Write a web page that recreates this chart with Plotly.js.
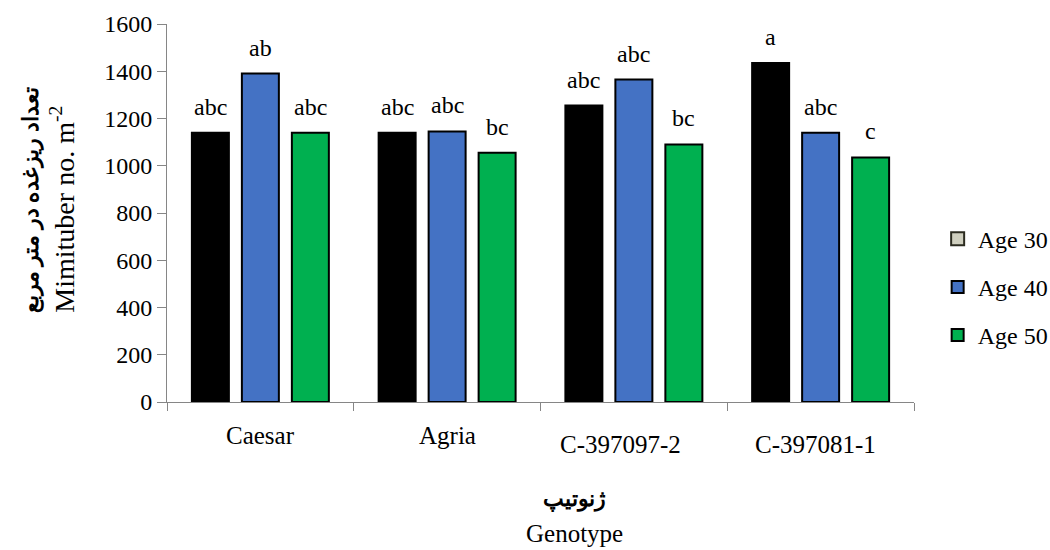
<!DOCTYPE html>
<html>
<head>
<meta charset="utf-8">
<script src="https://cdn.plot.ly/plotly-3.0.1.min.js"></script>
<style>html,body{margin:0;padding:0;background:#fff;}#chart{width:1050px;height:550px;}</style>
</head>
<body>
<div id="chart"></div>
<script>
const genotypes = ["Caesar", "Agria", "C-397097-2", "C-397081-1"];
const seriesNames = ["Age 30", "Age 40", "Age 50"];
const age30 = [1140, 1140, 1255, 1435];
const age40 = [1390, 1145, 1365, 1140];
const age50 = [1140, 1055, 1090, 1035];
const letters30 = ["abc", "abc", "abc", "a"];
const letters40 = ["ab", "abc", "abc", "abc"];
const letters50 = ["abc", "bc", "bc", "c"];
const yTicks = [0, 200, 400, 600, 800, 1000, 1200, 1400, 1600];

const colors = ["#000000", "#4472C4", "#00B050"];
const values = [age30, age40, age50];
const letters = [letters30, letters40, letters50];
const serif = "'Liberation Serif', 'Times New Roman', serif";

const traces = [];
// legend-only swatch for Age 30 (reference legend shows a light patterned swatch)
traces.push({
  type: "scatter", mode: "markers", x: [null], y: [null], name: seriesNames[0],
  marker: {symbol: "square", size: 13, color: "#cfcfbf", line: {color: "#2b2b20", width: 2}},
  showlegend: true, hoverinfo: "skip"
});
for (let s = 0; s < 3; s++) {
  traces.push({
    type: "bar", x: genotypes, y: values[s], name: seriesNames[s],
    showlegend: s !== 0,
    marker: {color: colors[s], line: {color: "#000000", width: 2}}
  });
}

const annotations = [];
const shifts = [-50, 0, 50];
for (let s = 0; s < 3; s++) {
  for (let i = 0; i < genotypes.length; i++) {
    annotations.push({
      x: genotypes[i], y: values[s][i], xref: "x", yref: "y",
      text: letters[s][i], showarrow: false, xshift: shifts[s], yshift: 11,
      yanchor: "bottom", xanchor: "center", font: {family: serif, size: 24, color: "#000"}
    });
  }
}
// category labels
const labelShift = [0, 0, -13, -5];
const labelY = [-0.088, -0.088, -0.113, -0.113];
genotypes.forEach((g, i) => {
  annotations.push({
    x: g, xref: "x", y: labelY[i], yref: "paper", text: g, showarrow: false,
    xshift: labelShift[i], yanchor: "middle", xanchor: "center",
    font: {family: serif, size: 25, color: "#000"}
  });
});
// axis titles
annotations.push({
  xref: "paper", yref: "paper", x: -0.183, y: 0.535, textangle: -90, showarrow: false,
  xanchor: "center", yanchor: "middle",
  text: "<b>تعداد ریزغده در متر مربع</b>", font: {family: serif, size: 22, color: "#000"}
});
annotations.push({
  xref: "paper", yref: "paper", x: -0.14, y: 0.51, textangle: -90, showarrow: false,
  xanchor: "center", yanchor: "middle",
  text: "Mimituber no. m<sup>-2</sup>", font: {family: serif, size: 28, color: "#000"}
});
annotations.push({
  xref: "paper", yref: "paper", x: 0.545, y: -0.257, showarrow: false,
  xanchor: "center", yanchor: "middle",
  text: "<b>ژنوتیپ</b>", font: {family: serif, size: 22, color: "#000"}
});
annotations.push({
  xref: "paper", yref: "paper", x: 0.545, y: -0.348, showarrow: false,
  xanchor: "center", yanchor: "middle",
  text: "Genotype", font: {family: serif, size: 25, color: "#000"}
});

const layout = {
  width: 1050, height: 550,
  margin: {l: 167, r: 136, t: 24, b: 148},
  paper_bgcolor: "#fff", plot_bgcolor: "#fff",
  barmode: "group", bargap: 0.197, bargroupgap: 0.26,
  font: {family: serif, color: "#000"},
  xaxis: {
    type: "category", showticklabels: false, tickson: "boundaries",
    ticks: "outside", ticklen: 8, tickcolor: "#868686", tickwidth: 1,
    showline: true, linecolor: "#868686", linewidth: 1, showgrid: false, zeroline: false
  },
  yaxis: {
    range: [0, 1600], tickvals: yTicks, ticktext: yTicks.map(String),
    ticks: "outside", ticklen: 9, tickcolor: "#868686", tickwidth: 1,
    showline: true, linecolor: "#868686", linewidth: 1, showgrid: false, zeroline: false,
    tickfont: {family: serif, size: 24, color: "#000"}
  },
  legend: {
    xref: "container", yref: "container", x: 0.893, y: 0.478, yanchor: "middle", xanchor: "left",
    font: {family: serif, size: 24, color: "#000"}, traceorder: "grouped", tracegroupgap: 14,
    itemwidth: 30
  },
  annotations: annotations
};
traces.forEach((t, i) => { t.legendgroup = "g" + i; });
Plotly.newPlot("chart", traces, layout, {displayModeBar: false, staticPlot: true});
</script>
</body>
</html>
